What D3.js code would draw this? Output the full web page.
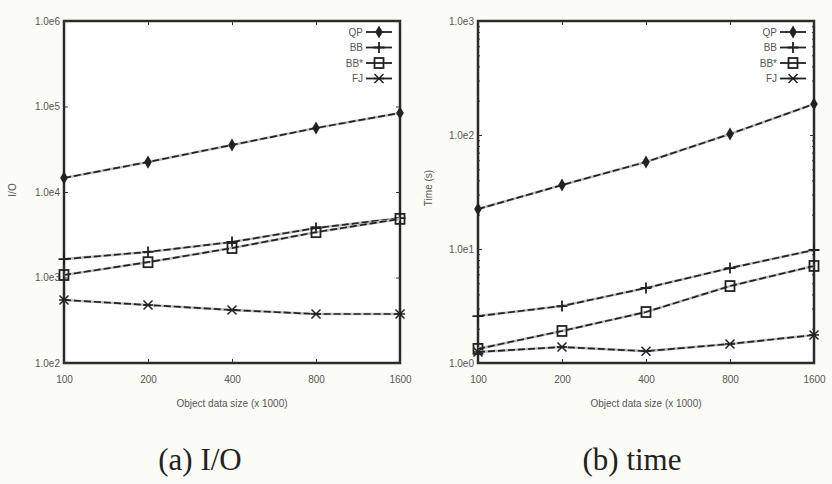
<!DOCTYPE html>
<html>
<head>
<meta charset="utf-8">
<script src="https://cdn.jsdelivr.net/npm/d3@7"></script>
<style>
  body { margin: 0; background: #fcfcf7; }
  svg { display: block; }
  .tick text { font-family: "Liberation Sans", Arial, sans-serif; font-size: 10px; fill: #555; }
  .lbl { font-family: "Liberation Sans", Arial, sans-serif; font-size: 10px; fill: #555; }
  .cap { font-family: "Liberation Serif", "DejaVu Serif", serif; font-size: 31px; fill: #222; }
</style>
</head>
<body>
<svg id="chart" width="832" height="484"></svg>
<script>
const sizes = [100, 200, 400, 800, 1600];
const seriesNames = ["QP", "BB", "BB*", "FJ"];

// (a) I/O
const ioQP = [14600, 22400, 35500, 56000, 84000];
const ioBB = [1640, 1990, 2600, 3790, 4950];
const ioBBs = [1070, 1510, 2210, 3390, 4850];
const ioFJ = [546, 477, 417, 374, 374];
const ioTicks = [1e2, 1e3, 1e4, 1e5, 1e6];
const ioTickLabels = ["1.0e2", "1.0e3", "1.0e4", "1.0e5", "1.0e6"];

// (b) time
const tQP = [22.4, 36.4, 58, 102, 187];
const tBB = [2.58, 3.16, 4.55, 6.8, 9.8];
const tBBs = [1.33, 1.91, 2.8, 4.73, 7.1];
const tFJ = [1.25, 1.38, 1.27, 1.47, 1.76];
const tTicks = [1, 10, 100, 1000];
const tTickLabels = ["1.0e0", "1.0e1", "1.0e2", "1.0e3"];

const markers = ["diamond", "plus", "square", "cross"];

const svg = d3.select("#chart");

function drawMarker(g, type, x, y) {
  const c = "#222";
  if (type === "diamond") {
    g.append("path").attr("d", d3.symbol(d3.symbolDiamond, 50)())
      .attr("transform", `translate(${x},${y})`).attr("fill", c);
  } else if (type === "plus") {
    g.append("path").attr("d", `M${x-5.5},${y}H${x+5.5}M${x},${y-5.5}V${y+5.5}`)
      .attr("stroke", c).attr("stroke-width", 1.8);
  } else if (type === "square") {
    g.append("rect").attr("x", x-4.5).attr("y", y-5).attr("width", 9).attr("height", 10)
      .attr("fill", "none").attr("stroke", c).attr("stroke-width", 1.8);
  } else {
    g.append("path").attr("d", `M${x-4.5},${y-4.5}L${x+4.5},${y+4.5}M${x-4.5},${y+4.5}L${x+4.5},${y-4.5}M${x-5},${y}H${x+5}`)
      .attr("stroke", c).attr("stroke-width", 1.5);
  }
}

function panel(cfg) {
  const g = svg.append("g");
  const x = d3.scaleLog().base(2).domain([100, 1600]).range([cfg.left, cfg.right]);
  const y = d3.scaleLog().domain(cfg.ydomain).range([cfg.bottom, cfg.top]);

  // frame
  g.append("rect").attr("x", cfg.left).attr("y", cfg.top)
    .attr("width", cfg.right - cfg.left).attr("height", cfg.bottom - cfg.top)
    .attr("fill", "#fff").attr("stroke", "#2a2a2a").attr("stroke-width", 2.5);

  // x axis
  const xa = g.append("g").attr("transform", `translate(0,${cfg.bottom})`)
    .call(d3.axisBottom(x).tickValues(sizes).tickFormat(d3.format("d")).tickSize(-4).tickPadding(13));
  xa.select(".domain").remove();
  xa.selectAll(".tick line").attr("stroke", "#333");
  g.append("g").attr("transform", `translate(0,${cfg.top})`)
    .call(d3.axisTop(x).tickValues(sizes).tickSize(-4).tickFormat(""))
    .call(a => a.select(".domain").remove())
    .selectAll(".tick line").attr("stroke", "#333");

  // y axis
  const ya = g.append("g").attr("transform", `translate(${cfg.left},0)`)
    .call(d3.axisLeft(y).tickValues(cfg.yticks).tickFormat((d, i) => cfg.ylabels[i]).tickSize(-4).tickPadding(4));
  ya.select(".domain").remove();
  ya.selectAll(".tick line").attr("stroke", "#333");
  g.append("g").attr("transform", `translate(${cfg.right},0)`)
    .call(d3.axisRight(y).tickValues(cfg.yticks).tickSize(-4).tickFormat(""))
    .call(a => a.select(".domain").remove())
    .selectAll(".tick line").attr("stroke", "#333");

  if (cfg.minor) {
    const minor = y.ticks().filter(v => !cfg.yticks.includes(v));
    [cfg.left, cfg.right].forEach((px, k) => {
      g.append("g").attr("transform", `translate(${px},0)`)
        .call((k ? d3.axisRight(y) : d3.axisLeft(y)).tickValues(minor).tickSize(-2).tickFormat(""))
        .call(a => a.select(".domain").remove())
        .selectAll(".tick line").attr("stroke", "#333");
    });
  }

  // series
  const line = d3.line().x((d, i) => x(sizes[i])).y(d => y(d));
  cfg.series.forEach((vals, si) => {
    g.append("path").datum(vals).attr("d", line)
      .attr("fill", "none").attr("stroke", "#bbb").attr("stroke-width", 2.6);
    g.append("path").datum(vals).attr("d", line)
      .attr("fill", "none").attr("stroke", "#222").attr("stroke-width", 1.7)
      .attr("stroke-dasharray", "7,3");
    vals.forEach((v, i) => drawMarker(g, markers[si], x(sizes[i]), y(v)));
  });

  // legend
  seriesNames.forEach((name, i) => {
    const ly = cfg.top + 11 + i * 15.5;
    g.append("text").attr("class", "lbl").attr("x", cfg.right - 37).attr("y", ly + 3.5)
      .attr("text-anchor", "end").text(name);
    g.append("line").attr("x1", cfg.right - 34).attr("x2", cfg.right - 8)
      .attr("y1", ly).attr("y2", ly).attr("stroke", "#222").attr("stroke-width", 1.8);
    drawMarker(g, markers[i], cfg.right - 21, ly);
  });

  // axis titles
  g.append("text").attr("class", "lbl")
    .attr("x", (cfg.left + cfg.right) / 2).attr("y", cfg.bottom + 44)
    .attr("text-anchor", "middle").text("Object data size (x 1000)");
  g.append("text").attr("class", "lbl")
    .attr("transform", `translate(${cfg.ytitleX},${cfg.ytitleY}) rotate(-90)`)
    .attr("text-anchor", "middle").text(cfg.ytitle);
  g.append("text").attr("class", "cap")
    .attr("x", cfg.capX).attr("y", 470).attr("text-anchor", "middle").text(cfg.caption);
}

panel({
  left: 64, right: 400, top: 21, bottom: 363,
  ydomain: [1e2, 1e6], yticks: ioTicks, ylabels: ioTickLabels, minor: false,
  series: [ioQP, ioBB, ioBBs, ioFJ],
  ytitle: "I/O", ytitleX: 16, ytitleY: 190,
  caption: "(a) I/O", capX: 200
});

panel({
  left: 478, right: 814, top: 21, bottom: 363,
  ydomain: [1, 1e3], yticks: tTicks, ylabels: tTickLabels, minor: true,
  series: [tQP, tBB, tBBs, tFJ],
  ytitle: "Time (s)", ytitleX: 432, ytitleY: 188,
  caption: "(b) time", capX: 632
});
</script>
</body>
</html>
